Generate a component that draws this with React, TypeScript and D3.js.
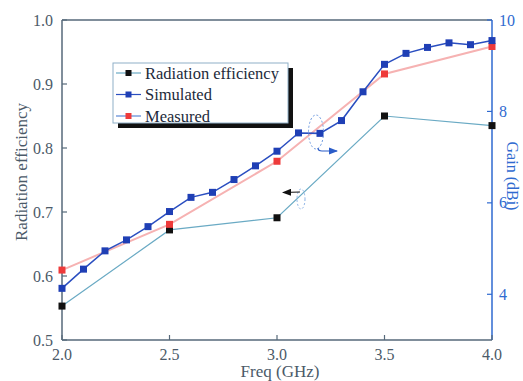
import React from "react";
import * as d3 from "d3";

const effFreq = [2.0, 2.5, 3.0, 3.5, 4.0];
const effValues = [0.553, 0.672, 0.691, 0.85, 0.835];

const simFreq = [2.0, 2.1, 2.2, 2.3, 2.4, 2.5, 2.6, 2.7, 2.8, 2.9, 3.0, 3.1, 3.2, 3.3, 3.4, 3.5, 3.6, 3.7, 3.8, 3.9, 4.0];
const simGain = [4.13, 4.55, 4.95, 5.19, 5.48, 5.81, 6.12, 6.23, 6.51, 6.81, 7.13, 7.53, 7.52, 7.8, 8.43, 9.03, 9.27, 9.4, 9.5, 9.46, 9.55];

const measFreq = [2.0, 2.5, 3.0, 3.5, 4.0];
const measGain = [4.53, 5.53, 6.91, 8.82, 9.42];

const xTicks = [2.0, 2.5, 3.0, 3.5, 4.0];
const leftTicks = [0.5, 0.6, 0.7, 0.8, 0.9, 1.0];
const rightTicks = [4, 6, 8, 10];

const legendItems = ["Radiation efficiency", "Simulated", "Measured"];

const FONT = "Liberation Serif, DejaVu Serif, serif";

export default function App() {
  const x = d3.scaleLinear().domain([2, 4]).range([62, 492]);
  const yL = d3.scaleLinear().domain([0.5, 1.0]).range([340, 20]);
  const yR = d3.scaleLinear().domain([3, 10]).range([340, 20]);

  const effLine = d3.line<number>().x((_, i) => x(effFreq[i])).y((d) => yL(d))(effValues) || "";
  const simLine = d3.line<number>().x((_, i) => x(simFreq[i])).y((d) => yR(d))(simGain) || "";
  const measLine = d3.line<number>().x((_, i) => x(measFreq[i])).y((d) => yR(d))(measGain) || "";

  const axisGray = "#56697a";
  const labelGray = "#4b5a68";
  const blue = "#2f6ad0";

  const [x0, x1] = x.range();
  const [yb, yt] = yL.range();

  const legendColors = [
    { line: "#6aaac4", mark: "#111" },
    { line: "#2a4ec0", mark: "#1f3fb5" },
    { line: "#5a86d6", mark: "#ee3a3a" },
  ];

  return (
    <svg width={523} height={381} style={{ position: "absolute", left: 0, top: 0, background: "#fff" }}>
      <defs>
        <marker id="arrB" markerWidth="8" markerHeight="6" refX="7" refY="3" orient="auto">
          <path d="M0,0 L8,3 L0,6 Z" fill="#2a5cc8" />
        </marker>
        <marker id="arrK" markerWidth="8" markerHeight="6" refX="7" refY="3" orient="auto">
          <path d="M0,0 L8,3 L0,6 Z" fill="#111" />
        </marker>
      </defs>

      {/* frame */}
      <line x1={x0} y1={yt} x2={x1} y2={yt} stroke={axisGray} strokeWidth={1.3} />
      <line x1={x0} y1={yb} x2={x1} y2={yb} stroke={axisGray} strokeWidth={1.3} />
      <line x1={x0} y1={yt} x2={x0} y2={yb} stroke={axisGray} strokeWidth={1.5} />
      <line x1={x1} y1={yt} x2={x1} y2={yb} stroke={blue} strokeWidth={1.5} />

      {/* x ticks */}
      {xTicks.map((t) => (
        <g key={"x" + t}>
          <line x1={x(t)} x2={x(t)} y1={yb} y2={yb - 5} stroke={axisGray} strokeWidth={1.2} />
          <text x={x(t)} y={360} textAnchor="middle" fontFamily={FONT} fontSize={16} fill={labelGray}>
            {t.toFixed(1)}
          </text>
        </g>
      ))}
      <text x={280} y={377} textAnchor="middle" fontFamily={FONT} fontSize={17} fill={labelGray}>
        Freq (GHz)
      </text>

      {/* left ticks */}
      {leftTicks.map((t) => (
        <g key={"l" + t}>
          <line x1={x0} x2={x0 + 5} y1={yL(t)} y2={yL(t)} stroke={axisGray} strokeWidth={1.2} />
          <text x={53} y={yL(t) + 5.5} textAnchor="end" fontFamily={FONT} fontSize={16} fill={labelGray}>
            {t.toFixed(1)}
          </text>
        </g>
      ))}
      <text
        transform="translate(27,172) rotate(-90)"
        textAnchor="middle"
        fontFamily={FONT}
        fontSize={17}
        fill={labelGray}
      >
        Radiation efficiency
      </text>

      {/* right ticks */}
      {rightTicks.map((t) => (
        <g key={"r" + t}>
          <line x1={x1} x2={x1 - 5} y1={yR(t)} y2={yR(t)} stroke={blue} strokeWidth={1.2} />
          <text x={499} y={yR(t) + 5.5} textAnchor="start" fontFamily={FONT} fontSize={16} fill={blue}>
            {t}
          </text>
        </g>
      ))}
      <text
        transform="translate(507,176) rotate(90)"
        textAnchor="middle"
        fontFamily={FONT}
        fontSize={16}
        fill={blue}
      >
        Gain (dBi)
      </text>

      {/* series */}
      <path d={measLine} fill="none" stroke="#f6b2b2" strokeWidth={2} />
      <path d={effLine} fill="none" stroke="#6aaac4" strokeWidth={1.2} />
      <path d={simLine} fill="none" stroke="#2a4ec0" strokeWidth={1.5} />

      {effValues.map((v, i) => (
        <rect key={"e" + i} x={x(effFreq[i]) - 3.5} y={yL(v) - 3.5} width={7} height={7} fill="#111" />
      ))}
      {measGain.map((v, i) => (
        <rect key={"m" + i} x={x(measFreq[i]) - 3.5} y={yR(v) - 3.5} width={7} height={7} fill="#ee3a3a" />
      ))}
      {simGain.map((v, i) => (
        <rect key={"s" + i} x={x(simFreq[i]) - 3.5} y={yR(v) - 3.5} width={7} height={7} fill="#1f3fb5" />
      ))}

      {/* annotations */}
      <ellipse cx={316} cy={132} rx={7.5} ry={17} fill="none" stroke="#6f9be0" strokeWidth={1} strokeDasharray="2,2" />
      <path d="M318,148 Q318,151 322,151 L337,151" fill="none" stroke="#2a5cc8" strokeWidth={1.2} markerEnd="url(#arrB)" />
      <ellipse cx={301} cy={199} rx={4} ry={10} fill="none" stroke="#8ab2e6" strokeWidth={1} strokeDasharray="2,2" />
      <path d="M300,192 L283,192.5" fill="none" stroke="#111" strokeWidth={1.2} markerEnd="url(#arrK)" />

      {/* legend */}
      <rect x={118} y={68} width={175} height={60} fill="#111" />
      <rect x={113} y={63} width={175} height={60} fill="#fff" stroke="#8fb0c8" strokeWidth={1} />
      {legendItems.map((name, i) => {
        const cy = 73 + i * 21.5;
        return (
          <g key={name}>
            <line x1={116} x2={141} y1={cy} y2={cy} stroke={legendColors[i].line} strokeWidth={1.2} />
            <rect x={125.5} y={cy - 3} width={6} height={6} fill={legendColors[i].mark} />
            <text x={145} y={cy + 5.5} fontFamily={FONT} fontSize={16.5} fill="#1d2a3a">
              {name}
            </text>
          </g>
        );
      })}
    </svg>
  );
}
